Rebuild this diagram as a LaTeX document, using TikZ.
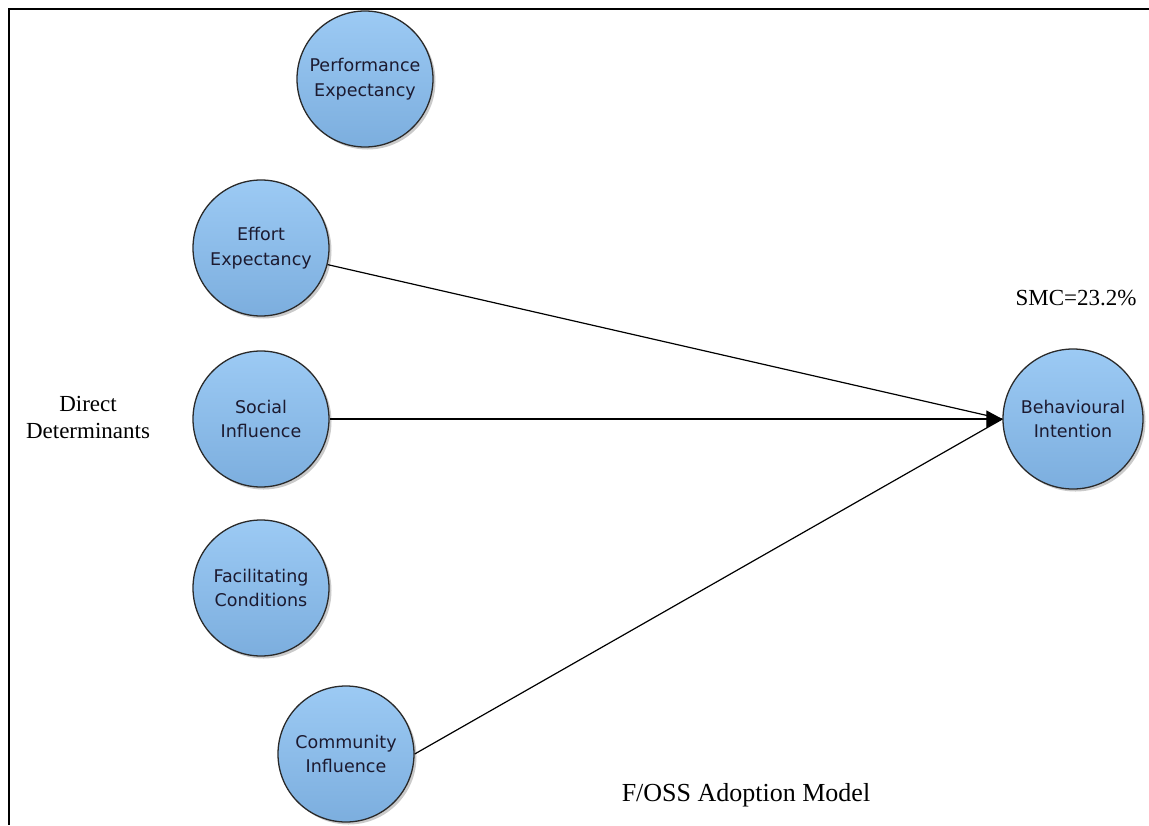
\documentclass[tikz,border=0pt]{standalone}
\usepackage{fontspec}
\setmainfont{Liberation Serif}
\newfontfamily\labelfont{DejaVu Sans}
\usetikzlibrary{arrows.meta,shadows}
\definecolor{bubbletop}{HTML}{9CCAF4}
\definecolor{bubblebot}{HTML}{7CAEDE}
\definecolor{bubbleline}{HTML}{2A2A2A}
\definecolor{labelink}{HTML}{1C1A30}
\tikzset{
  construct/.style={circle, minimum size=136pt, inner sep=0pt,
    draw=bubbleline, line width=1.3pt,
    top color=bubbletop, bottom color=bubblebot,
    drop shadow={shadow xshift=2.5pt, shadow yshift=-2.5pt, opacity=0.35, fill=black!60},
    align=center, text=labelink,
    font=\labelfont\fontsize{17.5}{24.5}\selectfont},
  link/.style={draw=black, line width=1.2pt},
  caption/.style={font=\fontsize{23}{27}\selectfont, text=black, align=center}
}
\begin{document}
\begin{tikzpicture}[x=1pt,y=-1pt]
\useasboundingbox (0,0) rectangle (1149,825);
% open frame: top and left edges only
\draw[line width=2.4pt] (1149,9) -- (9,9) -- (9,825);

% constructs
\node[construct] (pe) at (365,79)  {Performance\\Expectancy};
\node[construct] (ee) at (261,248) {Effort\\Expectancy};
\node[construct] (si) at (261,419) {Social\\Influence};
\node[construct] (fc) at (261,588) {Facilitating\\Conditions};
\node[construct] (ci) at (346,754) {Community\\Influence};
\node[construct, minimum size=140pt] (bi) at (1073,419) {Behavioural\\Intention};

% common entry point of the paths into Behavioural Intention
\coordinate (tip) at (bi.west);

% significant paths
\draw[link] (ee.-14) -- (tip);
\draw[link] (ci.east) -- (tip);
\draw[link, -{Triangle[length=16pt,width=17pt]}] (si.east) -- (tip);

% captions
\node[caption] (dd) at (88,417) {Direct\\Determinants};
\node[caption] (smc) at (1076,298) {SMC=23.2\%};
\node[caption, font=\fontsize{26}{30}\selectfont] (model) at (746,795) {F/OSS Adoption Model};
\end{tikzpicture}
\end{document}
